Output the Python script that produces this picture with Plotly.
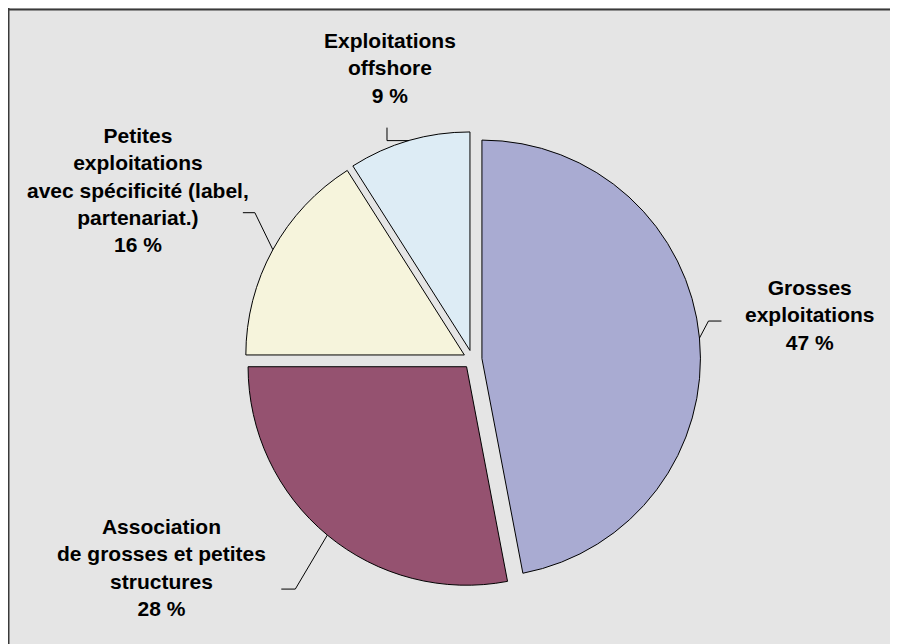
import math
import plotly.graph_objects as go

# ---- data ----
categories = [
    "Grosses<br>exploitations",
    "Association<br>de grosses et petites<br>structures",
    "Petites<br>exploitations<br>avec spécificité (label,<br>partenariat.)",
    "Exploitations<br>offshore",
]
values = [47, 28, 16, 9]
colors = ["#a9abd2", "#955270", "#f6f4dc", "#ddecf5"]

# ---- layout constants ----
W, H = 890, 636
pull = 0.043
dom_x = [0.2220, 0.8220]
dom_y = [0.0890, 0.8057]

# label leader-line offsets (px) relative to the slice edge point: elbow, end, label centre
label_offsets = [
    ((9, -17), (22, -17), (111, -23)),
    ((-32, 54), (-46, 54), (-166, 32)),
    ((-18, -37), (-30, -37), (-135, -60)),
    ((-22, 0), (-22, -13), (-19, -73)),
]

fig = go.Figure()
fig.add_trace(go.Pie(
    labels=categories,
    values=values,
    sort=False,
    direction="clockwise",
    rotation=0,
    pull=[pull] * len(values),
    marker=dict(colors=colors, line=dict(color="black", width=1)),
    textinfo="none",
    hoverinfo="label+percent",
    domain=dict(x=dom_x, y=dom_y),
    showlegend=False,
))

# geometry mirrors plotly's pie layout (margins are zero)
box = min((dom_x[1] - dom_x[0]) * W, (dom_y[1] - dom_y[0]) * H)
r = box / (2 + 2 * pull)
cx = W * (dom_x[0] + dom_x[1]) / 2
cy = H * (1 - (dom_y[0] + dom_y[1]) / 2)


def px2paper(x, y):
    return x / W, 1 - y / H


total = sum(values)
cum = 0
frame = dict(color="#3a3a3a", width=2)
shapes = [
    dict(type="line", xref="paper", yref="paper",
         x0=0.5 / W, x1=0.5 / W, y0=0, y1=1, line=frame),
    dict(type="line", xref="paper", yref="paper",
         x0=0, x1=1, y0=1 - 1.5 / H, y1=1 - 1.5 / H, line=frame),
]
annotations = []
for i, v in enumerate(values):
    mid = (cum + v / 2) / total
    cum += v
    th = 2 * math.pi * mid
    ex = cx + r * (1 + pull) * math.sin(th)
    ey = cy - r * (1 + pull) * math.cos(th)
    (elx, ely), (enx, eny), (lx, ly) = label_offsets[i]
    pts = [(ex, ey), (ex + elx, ey + ely), (ex + enx, ey + eny)]
    for (x0, y0), (x1, y1) in zip(pts[:-1], pts[1:]):
        a0 = px2paper(x0, y0)
        a1 = px2paper(x1, y1)
        shapes.append(dict(type="line", xref="paper", yref="paper",
                           x0=a0[0], y0=a0[1], x1=a1[0], y1=a1[1],
                           line=dict(color="black", width=1)))
    tx, ty = px2paper(ex + lx, ey + ly)
    annotations.append(dict(
        x=tx, y=ty, xref="paper", yref="paper",
        text=f"{categories[i]}<br>{v} %",
        showarrow=False, align="center", xanchor="center", yanchor="middle",
        font=dict(family="Liberation Sans, Arial, sans-serif", size=21,
                  color="black", weight="bold"),
    ))

fig.update_layout(
    width=W, height=H,
    margin=dict(l=0, r=0, t=0, b=0),
    paper_bgcolor="#e5e5e5",
    plot_bgcolor="#e5e5e5",
    shapes=shapes,
    annotations=annotations,
)

fig.write_html("out.html", post_script="document.body.style.overflow='hidden';")
